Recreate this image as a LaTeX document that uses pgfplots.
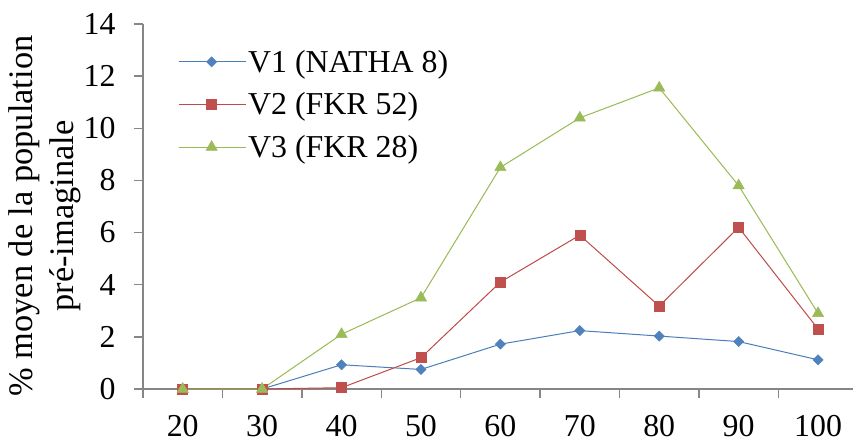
\documentclass[border=0pt]{standalone}
\usepackage{fontspec}
\setmainfont{Liberation Serif}
\usepackage{pgfplots}
\pgfplotsset{compat=1.18}
\definecolor{axgray}{HTML}{868686}
\definecolor{cblue}{HTML}{4A7EBB}
\definecolor{cred}{HTML}{BE4B48}
\definecolor{cgreen}{HTML}{98B954}
\definecolor{mblue}{HTML}{4F81BD}
\definecolor{mred}{HTML}{C0504D}
\definecolor{mgreen}{HTML}{9BBB59}
\begin{document}
\begin{tikzpicture}
\begin{axis}[
  at={(143bp,-389bp)}, anchor=south west,
  scale only axis, width=710bp, height=365bp,
  xmin=-0.5, xmax=8.44, ymin=0, ymax=14,
  clip=false,
  axis lines*=left,
  axis line style={draw=axgray, line width=1.5bp},
  tick style={draw=axgray, line width=1.5bp},
  tick align=outside,
  major tick length=9bp, minor tick length=9bp,
  xtick={0,...,8},
  xticklabels={20,30,40,50,60,70,80,90,100},
  major x tick style={draw=none},
  minor xtick={-0.5,0.5,1.5,2.5,3.5,4.5,5.5,6.5,7.5},
  ytick={0,2,...,14},
  /pgf/number format/assume math mode=true,
  every tick label/.append style={font=\fontsize{32}{38}\selectfont},
  yticklabel style={xshift=-15bp},
  xticklabel style={yshift=-14bp},
  ylabel={\% moyen de la population\\pré-imaginale},
  ylabel style={at={(axis description cs:-0.138,0.474)}, anchor=center, align=center, font=\fontsize{34.5}{41}\selectfont},
  legend style={draw=none, fill=none, at={(axis description cs:0.045,0.94)}, anchor=north west,
    font=\fontsize{32}{38}\selectfont, row sep=15bp, nodes={inner sep=2bp}},
  legend cell align=left,
  legend image code/.code={\draw[mark repeat=2,mark phase=2] plot coordinates {(0bp,0bp)(33bp,0bp)(67bp,0bp)};},
]
\addplot[color=cblue, line width=1bp, mark=square*, mark size=3.6bp, mark options={rotate=45, fill=mblue, draw=mblue, line width=0.5bp}]
  coordinates {(0,0)(1,0)(2,0.93)(3,0.75)(4,1.72)(5,2.24)(6,2.03)(7,1.82)(8,1.12)};
\addlegendentry{V1 (NATHA 8)}
\addplot[color=cred, line width=1bp, mark=square*, mark size=5bp, mark options={fill=mred, draw=mred, line width=0.5bp}]
  coordinates {(0,0)(1,0)(2,0.05)(3,1.2)(4,4.1)(5,5.9)(6,3.18)(7,6.2)(8,2.3)};
\addlegendentry{V2 (FKR 52)}
\addplot[color=cgreen, line width=1bp, mark=triangle*, mark size=6.5bp, mark options={fill=mgreen, draw=mgreen, line width=0.5bp}]
  coordinates {(0,0)(1,0)(2,2.1)(3,3.5)(4,8.5)(5,10.4)(6,11.55)(7,7.8)(8,2.9)};
\addlegendentry{V3 (FKR 28)}
\end{axis}
\pgfresetboundingbox
\path[use as bounding box] (0,0) rectangle (853bp,-443bp);
\end{tikzpicture}
\end{document}
